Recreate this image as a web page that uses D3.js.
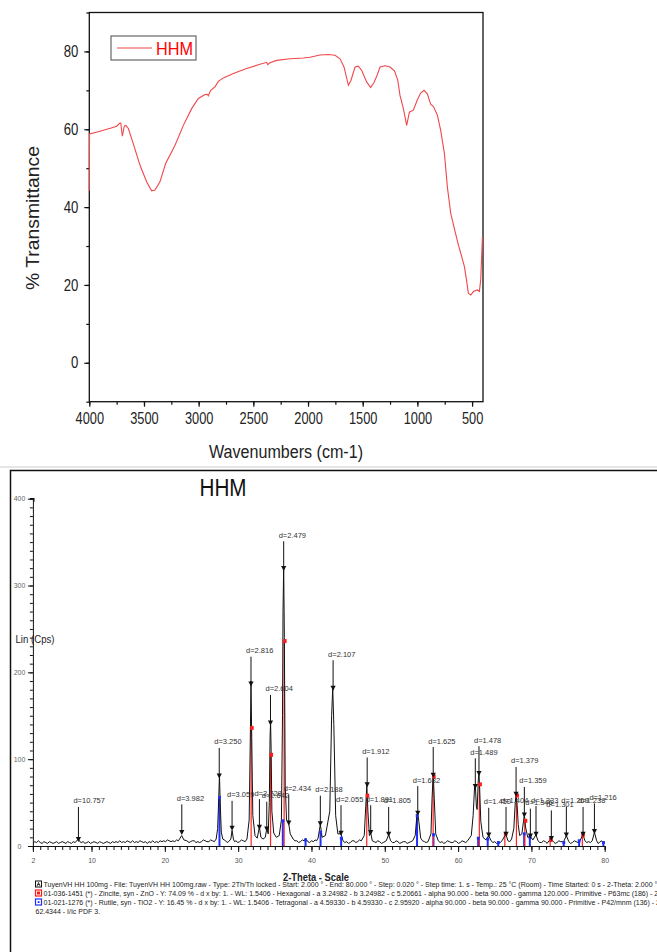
<!DOCTYPE html>
<html>
<head>
<meta charset="utf-8">
<script src="https://cdn.jsdelivr.net/npm/d3@7"></script>
<style>
  body { margin: 0; background: #fff; }
  svg { display: block; font-family: "Liberation Sans", Arial, sans-serif; }
</style>
</head>
<body>
<script>
// ---- FTIR spectrum (top panel) ----
const ftirWave = [4000, 3998, 3902, 3800, 3750, 3720, 3712, 3698, 3680, 3665, 3643, 3598, 3537, 3476, 3430, 3399,
  3354, 3302, 3216, 3140, 3064, 3003, 2942, 2921, 2912, 2890, 2851, 2820, 2774, 2683, 2561, 2439, 2378, 2369,
  2348, 2287, 2165, 2043, 1982, 1890, 1814, 1753, 1707, 1671, 1631, 1607, 1570, 1540, 1509, 1463, 1427, 1396,
  1372, 1341, 1296, 1250, 1210, 1180, 1159, 1128, 1098, 1073, 1037, 1000, 970, 939, 909, 878, 854, 817, 787,
  753, 726, 695, 655, 625, 595, 570, 549, 534, 512, 488, 451, 433, 421, 405];
const ftirT = [44.2, 58.8, 59.5, 60.3, 60.8, 61.6, 61.6, 58.2, 60.8, 61.0, 60.2, 56.3, 50.8, 46.5, 44.2, 44.4,
  46.5, 51.2, 55.9, 61.0, 65.3, 67.9, 68.9, 69.0, 68.6, 70.0, 70.9, 72.3, 73.2, 74.3, 75.6, 76.7, 77.2, 76.6,
  77.1, 77.7, 78.1, 78.3, 78.5, 79.1, 79.2, 79.0, 78.1, 76.0, 71.3, 72.6, 76.0, 76.2, 75.1, 72.1, 70.7, 72.1,
  73.6, 76.0, 76.3, 76.0, 75.0, 72.7, 68.7, 65.3, 61.0, 64.4, 64.9, 67.6, 69.3, 70.0, 69.1, 66.4, 65.9, 63.6, 59.7,
  53.8, 45.2, 38.4, 33.7, 30.3, 27.3, 24.7, 20.9, 17.9, 17.4, 18.3, 18.7, 18.3, 21.3, 32.4];
const ftirYTicks = [0, 20, 40, 60, 80];
const ftirXTicks = [4000, 3500, 3000, 2500, 2000, 1500, 1000, 500];

// ---- XRD pattern (bottom panel) ----
const xrdTrace = [[2,3],[2.25,5],[2.5,4],[2.75,6],[3,4],[3.25,3],[3.5,5],[3.75,4],[4,3],[4.25,5],[4.5,4],[4.75,3],
  [5,4],[5.25,5],[5.5,3],[5.75,4],[6,5],[6.25,4],[6.5,3],[6.75,5],[7,4],[7.25,3],[7.5,5],[7.75,4],[8,6],[8.2,8],
  [8.4,5],[8.6,4],[8.85,5],[9.1,3],[9.35,4],[9.6,5],[9.85,3],[10.1,4],[10.35,5],[10.6,4],[10.85,3],[11.1,5],
  [11.35,4],[11.6,3],[11.85,4],[12.1,5],[12.35,4],[12.6,3],[12.85,5],[13.1,4],[13.35,5],[13.6,4],[13.85,6],
  [14.1,4],[14.35,5],[14.6,4],[14.85,6],[15.1,5],[15.35,4],[15.6,6],[15.85,4],[16.1,5],[16.35,4],[16.6,6],
  [16.85,5],[17.1,4],[17.35,5],[17.6,3],[17.85,5],[18.1,4],[18.35,6],[18.6,4],[18.85,5],[19.1,4],[19.35,6],
  [19.6,5],[19.85,6],[20.1,5],[20.35,7],[20.6,6],[20.85,5],[21.1,6],[21.35,5],[21.6,7],[21.85,6],
  [22,8],[22.3,12],[22.6,7],[23,6],[23.3,4],[23.5,5],[23.75,6],[24,6],[24.25,4],[24.5,5],[24.75,4],[25,5],
  [25.25,7],[25.5,6],[25.75,5],[26,5],[26.25,7],[26.5,6],[26.75,5],[27,8],[27.2,20],
  [27.35,55],[27.45,82],[27.55,50],[27.7,16],[27.9,8],[28.1,7],[28.3,6],[28.5,4],[28.7,5],[29,8],[29.17,18],
  [29.35,8],[29.5,5],[29.7,6],[29.95,4],[30.2,5],[30.45,7],[30.7,6],[30.95,5],[31.2,8],[31.5,30],[31.65,120],
  [31.75,190],[31.85,125],[32,35],[32.3,12],[32.6,9],[32.9,22],
  [33.1,10],[33.4,8],[33.7,10],[33.9,20],[34.1,14],[34.25,50],[34.35,125],[34.42,143],[34.5,110],[34.6,40],
  [34.85,15],[35.2,10],[35.6,12],[35.9,30],[36.05,150],[36.12,270],[36.21,322],[36.3,240],[36.42,70],[36.6,30],
  [36.9,26],[37.1,14],[37.5,8],[37.75,6],[38,6],[38.25,4],[38.5,5],[38.75,7],[39,6],[39.2,9],[39.5,5],[39.75,4],
  [40,6],[40.25,5],[40.5,7],[40.7,6],[40.9,9],[41.21,25],
  [41.45,10],[41.9,12],[42.5,40],[42.75,150],[42.9,182],[43.05,140],[43.3,35],[43.6,14],[44.03,14],[44.3,6],
  [44.55,4],[44.8,5],[45.05,3],[45.3,4],[45.55,6],[45.8,6],[46.05,4],[46.3,5],[46.55,7],[46.8,6],[47.2,12],
  [47.4,45],[47.55,70],[47.7,40],[47.9,12],[48.08,15],
  [48.3,6],[48.55,5],[48.8,4],[49.05,6],[49.3,5],[49.55,3],[49.8,4],[50.2,6],[50.53,13],[50.8,6],[51.05,4],
  [51.3,4],[51.55,6],[51.8,5],[52.05,3],[52.3,4],[52.55,5],[52.8,5],[53.05,3],[53.3,4],[53.55,5],
  [53.8,6],[54.15,12],[54.35,32],[54.5,38],[54.65,28],[54.9,9],[55.15,6],[55.4,5],[55.65,4],[55.9,5],[56.3,14],
  [56.45,55],[56.61,83],
  [56.75,55],[56.95,14],[57.3,6],[57.55,4],[57.8,5],[58.05,3],[58.3,4],[58.55,6],[58.8,5],[59.05,4],[59.3,4],
  [59.55,6],[59.8,5],[60.05,3],[60.3,4],[60.55,6],[60.8,5],[61.05,4],[61.3,6],
  [61.8,12],[62.05,35],[62.25,68],[62.35,70],[62.5,45],[62.6,42],[62.75,75],[62.85,84],[62.95,65],[63.1,28],
  [63.4,10],[63.8,7],[64.18,12],[64.5,6],[64.75,4],[65,5],[65.25,3],[65.5,5],[65.75,4],[66,6],[66.38,12],
  [66.54,13],[66.8,6],[67.05,5],[67.3,8],
  [67.6,20],[67.8,50],[67.91,60],[68.05,48],[68.2,25],[68.4,12],[68.7,14],[69.04,36],[69.2,22],[69.5,10],
  [69.86,11],[70.2,7],[70.63,13],[70.9,6],[71.15,4],[71.4,4],[71.65,6],[71.9,5],[72.15,3],[72.4,6],[72.72,8],
  [73,5],[73.25,3],[73.5,4],[73.75,6],[74,5],[74.4,5],
  [74.77,12],[75.1,5],[75.35,3],[75.6,4],[75.85,6],[76.1,5],[76.35,4],[76.6,6],[77.05,13],[77.3,6],[77.55,4],
  [77.8,5],[78.05,4],[78.3,6],[78.6,16],[78.9,6],
  [79.1,3],[79.3,4],[79.5,6],[79.7,5],[80,4]];

// peak markers: position, arrow top, arrow head (counts) and d-spacing label
const peakTheta = [8.21, 22.31, 27.42, 29.17, 31.75, 32.9, 33.9, 34.41, 36.21, 36.9, 41.21, 42.95, 44.03, 47.6,
  48.08, 50.53, 54.5, 56.61, 62.35, 62.85, 64.18, 66.54, 67.91, 69.04, 69.86, 70.63, 72.72, 74.77, 77.05, 78.6];
const peakTop = [45, 48, 113, 52, 218, 54, 51, 174, 351, 59, 58, 214, 47, 102, 47, 45, 69, 114, 101, 115, 44, 45,
  91, 68, 43, 46, 41, 45, 45, 49];
const peakHead = [7, 15, 80, 20, 186, 21, 19, 141, 319, 26, 25, 181, 14, 70, 15, 13, 37, 81, 68, 83, 12, 13, 59,
  35, 11, 13, 8, 12, 13, 16];
const peakLabel = ["d=10.757", "d=3.982", "d=3.250", "d=3.059", "d=2.816", "d=2.728", "d=2.642", "d=2.604",
  "d=2.479", "d=2.434", "d=2.188", "d=2.107", "d=2.055", "d=1.912", "d=1.891", "d=1.805", "d=1.682", "d=1.625",
  "d=1.489", "d=1.478", "d=1.450", "d=1.404", "d=1.379", "d=1.359", "d=1.346", "d=1.333", "d=1.301", "d=1.269",
  "d=1.238", "d=1.216"];

// reference sticks: ZnO zincite (red) and TiO2 rutile (blue)
const zincTheta = [31.77, 34.42, 36.27, 47.54, 56.6, 62.9, 66.38, 67.96, 69.1, 72.56, 76.95];
const zincI = [136, 105, 236, 58, 80, 71, 14, 58, 29, 7, 13];
const rutTheta = [27.45, 36.09, 39.19, 41.24, 44.05, 54.4, 56.64, 62.74, 64.04, 65.48, 69.01, 69.79, 74.41, 76.51, 79.82];
const rutI = [56, 29, 7, 16, 9, 35, 13, 9, 8, 4, 14, 10, 4, 6, 4];

const xrdXTicks = [2, 10, 20, 30, 40, 50, 60, 70, 80];
const xrdYTicks = [0, 100, 200, 300, 400];

const legendRows = [
  "TuyenVH HH 100mg - File: TuyenVH HH 100mg.raw - Type: 2Th/Th locked - Start: 2.000 \u00b0 - End: 80.000 \u00b0 - Step: 0.020 \u00b0 - Step time: 1. s - Temp.: 25 \u00b0C (Room) - Time Started: 0 s - 2-Theta: 2.000 \u00b0 - Theta: 1.000 \u00b0",
  "01-036-1451 (*) - Zincite, syn - ZnO - Y: 74.09 % - d x by: 1. - WL: 1.5406 - Hexagonal - a 3.24982 - b 3.24982 - c 5.20661 - alpha 90.000 - beta 90.000 - gamma 120.000 - Primitive - P63mc (186) - 2 - 47.6",
  "01-021-1276 (*) - Rutile, syn - TiO2 - Y: 16.45 % - d x by: 1. - WL: 1.5406 - Tetragonal - a 4.59330 - b 4.59330 - c 2.95920 - alpha 90.000 - beta 90.000 - gamma 90.000 - Primitive - P42/mnm (136) - 2 -",
  "62.4344 - I/Ic PDF 3."
];

const W = 657, H = 952;
const svg = d3.select("body").append("svg").attr("width", W).attr("height", H);

// squash text horizontally (the figure was scanned narrower than tall)
function squeeze(sel, k) {
  sel.each(function() {
    const w = this.getComputedTextLength();
    d3.select(this).attr("textLength", w * k).attr("lengthAdjust", "spacingAndGlyphs");
  });
}

// ================= top: FTIR =================
const xF = d3.scaleLinear().domain([4000, 400]).range([89.3, 483]);
const yF = d3.scaleLinear().domain([-10, 90]).range([401.7, 12.5]);

const ftirG = svg.append("g");

ftirG.append("g")
  .attr("transform", `translate(0,${yF(-10)})`)
  .call(d3.axisBottom(xF).tickValues(d3.range(4000, 400, -250)).tickSize(3).tickFormat(""))
  .call(g => g.select(".domain").remove());
const xAx = ftirG.append("g")
  .attr("transform", `translate(0,${yF(-10)})`)
  .call(d3.axisBottom(xF).tickValues(ftirXTicks).tickSize(5).tickPadding(6).tickFormat(d => d))
  .call(g => g.select(".domain").remove());
xAx.selectAll("text").attr("font-size", 16).attr("fill", "#222").attr("font-family", "Liberation Sans, Arial");
squeeze(xAx.selectAll("text"), 0.8);

ftirG.append("g")
  .attr("transform", `translate(${xF(4000)},0)`)
  .call(d3.axisLeft(yF).tickValues(d3.range(-10, 91, 10)).tickSize(3).tickFormat(""))
  .call(g => g.select(".domain").remove());
const yAx = ftirG.append("g")
  .attr("transform", `translate(${xF(4000)},0)`)
  .call(d3.axisLeft(yF).tickValues(ftirYTicks).tickSize(5).tickPadding(6))
  .call(g => g.select(".domain").remove());
yAx.selectAll("text").attr("font-size", 16).attr("fill", "#222").attr("font-family", "Liberation Sans, Arial");
squeeze(yAx.selectAll("text"), 0.82);
ftirG.selectAll(".tick line").attr("stroke", "#111").attr("stroke-width", 1.2);

ftirG.append("rect")
  .attr("x", xF(4000)).attr("y", yF(90))
  .attr("width", xF(400) - xF(4000)).attr("height", yF(-10) - yF(90))
  .attr("fill", "none").attr("stroke", "#111").attr("stroke-width", 1.3);

const ftir = ftirWave.map((w, i) => [w, ftirT[i]]);
ftirG.append("path")
  .datum(ftir)
  .attr("fill", "none")
  .attr("stroke", "#f0474a")
  .attr("stroke-width", 1.1)
  .attr("d", d3.line().x(d => xF(d[0])).y(d => yF(d[1])));

// legend
ftirG.append("rect").attr("x", 111).attr("y", 36).attr("width", 85).attr("height", 24)
  .attr("fill", "#fff").attr("stroke", "#666").attr("stroke-width", 1.2);
ftirG.append("line").attr("x1", 117).attr("x2", 152).attr("y1", 48).attr("y2", 48)
  .attr("stroke", "#f0474a").attr("stroke-width", 1.1);
ftirG.append("text").attr("x", 156).attr("y", 55).attr("font-size", 19).attr("fill", "#f00")
  .attr("textLength", 37).attr("lengthAdjust", "spacingAndGlyphs").text("HHM");

ftirG.append("text")
  .attr("transform", `translate(39,218) rotate(-90)`)
  .attr("text-anchor", "middle").attr("font-size", 19).attr("fill", "#222")
  .attr("textLength", 144).attr("lengthAdjust", "spacingAndGlyphs")
  .text("% Transmittance");
ftirG.append("text")
  .attr("x", 286).attr("y", 458)
  .attr("text-anchor", "middle").attr("font-size", 18).attr("fill", "#222")
  .attr("textLength", 154).attr("lengthAdjust", "spacingAndGlyphs")
  .text("Wavenumbers (cm-1)");

svg.append("line").attr("x1", 0).attr("x2", W).attr("y1", 467).attr("y2", 467)
  .attr("stroke", "#e6e6e6").attr("stroke-width", 2);

// ================= bottom: XRD =================
const xX = d3.scaleLinear().domain([2, 80]).range([32.9, 604.7]);
const yX = d3.scaleLinear().domain([0, 400]).range([846, 498.7]);

const bot = svg.append("g");

// panel frame
bot.append("path").attr("d", `M10.5,${H} V470.5 H${W}`)
  .attr("fill", "none").attr("stroke", "#111").attr("stroke-width", 1.5);

bot.append("text").attr("x", 223).attr("y", 495.5).attr("text-anchor", "middle")
  .attr("font-size", 23).attr("fill", "#111")
  .attr("textLength", 47).attr("lengthAdjust", "spacingAndGlyphs").text("HHM");

// axes
bot.append("g")
  .attr("transform", `translate(0,${yX(0)})`)
  .call(d3.axisBottom(xX).tickValues(d3.range(2, 81, 1)).tickSize(4).tickFormat(""))
  .call(g => g.select(".domain").attr("stroke", "#111"));
const bx = bot.append("g")
  .attr("transform", `translate(0,${yX(0)})`)
  .call(d3.axisBottom(xX).tickValues(xrdXTicks).tickSize(6).tickPadding(6))
  .call(g => g.select(".domain").remove());
bx.selectAll("text").attr("font-size", 7).attr("fill", "#555").attr("font-family", "Liberation Sans, Arial");

bot.append("g")
  .attr("transform", `translate(${xX(2)},0)`)
  .call(d3.axisLeft(yX).tickValues(d3.range(0, 401, 10)).tickSize(3).tickFormat(""))
  .call(g => g.select(".domain").attr("stroke", "#111"));
const by = bot.append("g")
  .attr("transform", `translate(${xX(2)},0)`)
  .call(d3.axisLeft(yX).tickValues(xrdYTicks).tickSize(5).tickFormat(d => d))
  .call(g => g.select(".domain").remove());
by.selectAll("text").attr("font-size", 7).attr("fill", "#666").attr("text-anchor", "middle")
  .attr("x", 19.5 - xX(2)).attr("font-family", "Liberation Sans, Arial");
bot.selectAll(".tick line").attr("stroke", "#111").attr("stroke-width", 1);
bot.append("path").attr("d", `M${xX(2) - 3},${yX(400)} H${xX(2) + 1} V${yX(400) + 3}`)
  .attr("fill", "none").attr("stroke", "#111").attr("stroke-width", 1.3);

bot.append("text").attr("x", 15.5).attr("y", 642.5).attr("font-size", 10).attr("fill", "#222")
  .attr("textLength", 39).attr("lengthAdjust", "spacingAndGlyphs").text("Lin (Cps)");
bot.append("text").attr("x", 316).attr("y", 881).attr("text-anchor", "middle")
  .attr("font-size", 10).attr("font-weight", "bold").attr("fill", "#222")
  .attr("textLength", 66).attr("lengthAdjust", "spacingAndGlyphs").text("2-Theta - Scale");

// reference sticks
const rut = rutTheta.map((t, i) => [t, rutI[i]]);
const zinc = zincTheta.map((t, i) => [t, zincI[i]]);
bot.append("g").selectAll("line").data(rut).join("line")
  .attr("x1", d => xX(d[0])).attr("x2", d => xX(d[0]))
  .attr("y1", yX(0)).attr("y2", d => yX(d[1]))
  .attr("stroke", "#1f2fff").attr("stroke-width", 2);
bot.append("g").selectAll("line").data(zinc).join("line")
  .attr("x1", d => xX(d[0])).attr("x2", d => xX(d[0]))
  .attr("y1", yX(0)).attr("y2", d => yX(d[1]))
  .attr("stroke", "#ff2020").attr("stroke-width", 1.2);

// measured trace
bot.append("path")
  .datum(xrdTrace)
  .attr("fill", "none").attr("stroke", "#111").attr("stroke-width", 1)
  .attr("stroke-linejoin", "round")
  .attr("d", d3.line().x(d => xX(d[0])).y(d => yX(d[1])));

bot.append("g").selectAll("rect").data(zinc).join("rect")
  .attr("x", d => xX(d[0]) - 1).attr("y", d => yX(d[1]) - 2)
  .attr("width", 3.5).attr("height", 4).attr("fill", "#ff1a1a");
bot.append("g").selectAll("rect").data(rut).join("rect")
  .attr("x", d => xX(d[0]) - 1.3).attr("y", d => yX(d[1]) - 1.5)
  .attr("width", 2.8).attr("height", 3).attr("fill", "#1f2fff");

// peak search markers
const peaks = peakTheta.map((t, i) => ({ t, top: peakTop[i], head: peakHead[i], label: peakLabel[i] }));
const pk = bot.append("g").selectAll("g").data(peaks).join("g");
pk.append("line")
  .attr("x1", d => xX(d.t)).attr("x2", d => xX(d.t))
  .attr("y1", d => yX(d.top)).attr("y2", d => yX(d.head))
  .attr("stroke", "#111").attr("stroke-width", 1);
pk.append("path")
  .attr("d", d => { const x = xX(d.t), y = yX(d.head); return `M${x - 2.6},${y - 3} H${x + 2.6} L${x},${y + 2} Z`; })
  .attr("fill", "#111");
pk.append("text")
  .attr("x", d => xX(d.t) - 5).attr("y", d => yX(d.top) - 3.5)
  .attr("font-size", 7.5).attr("fill", "#333").text(d => d.label);

// phase legend
const lg = bot.append("g").attr("font-size", 7).attr("fill", "#222");
const rowY = [887, 896, 905, 914];
lg.selectAll("text").data(legendRows).join("text")
  .attr("x", (d, i) => i === 3 ? 35.5 : 43.5).attr("y", (d, i) => rowY[i]).text(d => d);
lg.append("rect").attr("x", 35.5).attr("y", 881).attr("width", 6).attr("height", 6)
  .attr("fill", "#fff").attr("stroke", "#111").attr("stroke-width", 1);
lg.append("path").attr("d", "M37,886 L38.5,882.5 L40,886 M37.5,884.5 H39.5").attr("stroke", "#111")
  .attr("fill", "none").attr("stroke-width", 0.8);
lg.append("rect").attr("x", 35.5).attr("y", 890).attr("width", 6).attr("height", 6)
  .attr("fill", "#fff").attr("stroke", "#ff1a1a").attr("stroke-width", 1.2);
lg.append("rect").attr("x", 37).attr("y", 891.5).attr("width", 3).attr("height", 3).attr("fill", "#ff1a1a");
lg.append("rect").attr("x", 35.5).attr("y", 899).attr("width", 6).attr("height", 6)
  .attr("fill", "#fff").attr("stroke", "#1f2fff").attr("stroke-width", 1.2);
lg.append("rect").attr("x", 37.7).attr("y", 901.2).attr("width", 1.8).attr("height", 1.8).attr("fill", "#1f2fff");
</script>
</body>
</html>
